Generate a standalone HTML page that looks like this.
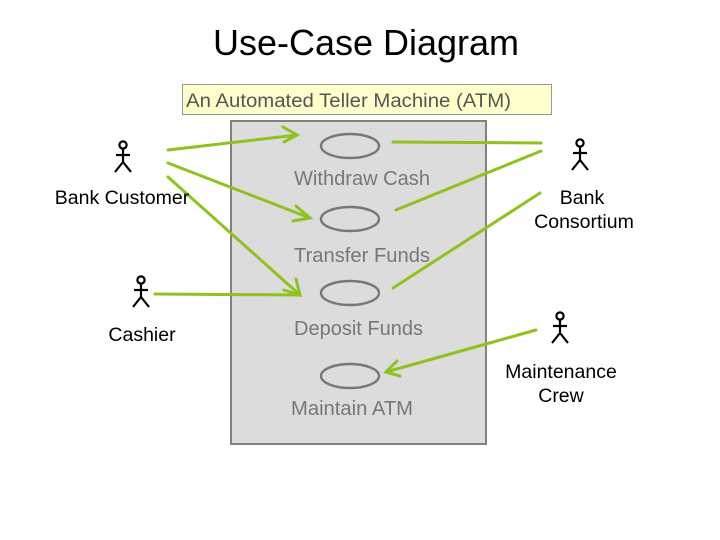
<!DOCTYPE html>
<html><head><style>
body{margin:0;background:#fff;}
svg{display:block;font-family:"Liberation Sans",sans-serif;}
</style></head><body>
<svg width="720" height="540" viewBox="0 0 720 540" xmlns="http://www.w3.org/2000/svg">
<defs>
<g id="actor" stroke="#000" stroke-width="2.2" fill="none">
<circle cx="0" cy="0" r="3.6"/>
<line x1="0" y1="3.6" x2="0" y2="17"/>
<line x1="-7" y1="10" x2="7" y2="10"/>
<line x1="0" y1="17" x2="-8" y2="27"/>
<line x1="0" y1="17" x2="8" y2="27"/>
</g>
</defs>
<text x="366" y="55" font-size="36" text-anchor="middle" fill="#000">Use-Case Diagram</text>
<rect x="182.5" y="84.5" width="369" height="30" fill="#ffffcc" stroke="#999"/>
<text x="186" y="107" font-size="19" fill="#555" textLength="325" lengthAdjust="spacingAndGlyphs">An Automated Teller Machine (ATM)</text>
<rect x="231" y="121" width="255" height="323" fill="#dcdcdc" stroke="#808080" stroke-width="2"/>
<g fill="none" stroke="#777" stroke-width="2.4">
<ellipse cx="350" cy="146" rx="29" ry="12"/>
<ellipse cx="350" cy="219" rx="29" ry="12"/>
<ellipse cx="350" cy="293" rx="29" ry="12"/>
<ellipse cx="350" cy="376" rx="29" ry="12"/>
</g>
<g font-size="20" fill="#777">
<text x="294" y="185" textLength="136" lengthAdjust="spacingAndGlyphs">Withdraw Cash</text>
<text x="294" y="262" textLength="136" lengthAdjust="spacingAndGlyphs">Transfer Funds</text>
<text x="294" y="335" textLength="129" lengthAdjust="spacingAndGlyphs">Deposit Funds</text>
<text x="291" y="415" textLength="122" lengthAdjust="spacingAndGlyphs">Maintain ATM</text>
</g>
<g stroke="#8dc21f" stroke-width="3" fill="none" stroke-linecap="round">
<line x1="168" y1="150" x2="297" y2="135"/>
<polyline points="283,127 297,135 284,142"/>
<line x1="168" y1="163" x2="310" y2="218"/>
<polyline points="296,206 310,218 293,221"/>
<line x1="168" y1="177" x2="300" y2="295"/>
<polyline points="296,279 300,295 284,290"/>
<line x1="393" y1="142" x2="541" y2="143"/>
<line x1="396" y1="210" x2="541" y2="151"/>
<line x1="393" y1="288" x2="540" y2="193"/>
<line x1="155" y1="294" x2="300" y2="295"/>
<line x1="536" y1="330" x2="386" y2="372"/>
<polyline points="397,361 386,372 400,376"/>
</g>
<use href="#actor" x="123" y="145"/>
<use href="#actor" x="580" y="143"/>
<use href="#actor" x="141" y="280"/>
<use href="#actor" x="560" y="316"/>
<g font-size="19.5" fill="#000" text-anchor="middle">
<text x="122" y="204">Bank Customer</text>
<text x="582" y="204">Bank</text>
<text x="584" y="228">Consortium</text>
<text x="142" y="341">Cashier</text>
<text x="561" y="378">Maintenance</text>
<text x="561" y="402">Crew</text>
</g>
</svg>
</body></html>
